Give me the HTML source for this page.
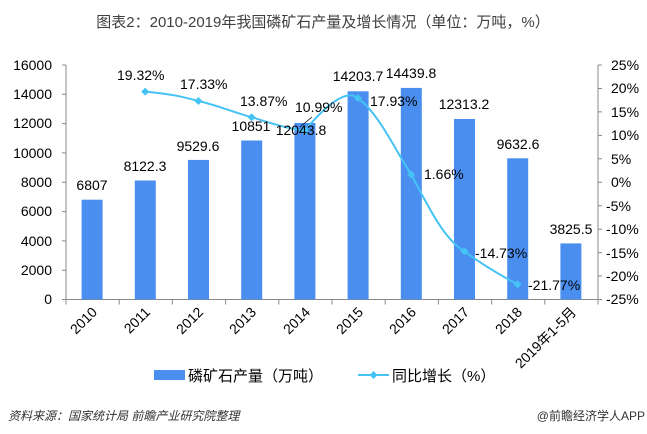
<!DOCTYPE html>
<html><head><meta charset="utf-8"><style>
body{margin:0;background:#fff;}
svg{display:block;font-family:"Liberation Sans","Noto Sans CJK SC",sans-serif;}
</style></head><body>
<svg width="647" height="434" viewBox="0 0 647 434" xmlns="http://www.w3.org/2000/svg">
<rect width="647" height="434" fill="#fff"/>
<text x="323" y="27" font-size="15" fill="#404040" text-anchor="middle">图表2：2010-2019年我国磷矿石产量及增长情况（单位：万吨，%）</text>
<g stroke="#888" stroke-width="1" fill="none">
<line x1="66" y1="65" x2="66" y2="299.5"/>
<line x1="598" y1="65" x2="598" y2="299.5"/>
<line x1="66" y1="299.5" x2="598" y2="299.5"/>
<path d="M62 65h4M62 94.3h4M62 123.6h4M62 152.9h4M62 182.2h4M62 211.6h4M62 240.9h4M62 270.2h4M62 299.5h4"/>
<path d="M598 65h4M598 88.5h4M598 111.9h4M598 135.4h4M598 158.8h4M598 182.2h4M598 205.7h4M598 229.2h4M598 252.6h4M598 276h4M598 299.5h4"/>
<path d="M66 299.5v5M119.2 299.5v5M172.4 299.5v5M225.6 299.5v5M278.8 299.5v5M332 299.5v5M385.2 299.5v5M438.4 299.5v5M491.6 299.5v5M544.8 299.5v5M598 299.5v5"/>
</g>
<g font-size="14" fill="#000" text-anchor="end">
<text x="52" y="70">16000</text><text x="52" y="99">14000</text><text x="52" y="128">12000</text><text x="52" y="158">10000</text><text x="52" y="187">8000</text><text x="52" y="216">6000</text><text x="52" y="246">4000</text><text x="52" y="275">2000</text><text x="52" y="304">0</text>
</g>
<g font-size="14" fill="#000" text-anchor="start">
<text x="611" y="70">25%</text><text x="611" y="93">20%</text><text x="611" y="117">15%</text><text x="611" y="140">10%</text><text x="611" y="164">5%</text><text x="611" y="187">0%</text><text x="606" y="211">-5%</text><text x="606" y="234">-10%</text><text x="606" y="258">-15%</text><text x="606" y="281">-20%</text><text x="606" y="304">-25%</text>
</g>
<g fill="#4a8ff0">
<rect x="81.6" y="199.7" width="21" height="99.8"/>
<rect x="134.8" y="180.5" width="21" height="119"/>
<rect x="188" y="159.9" width="21" height="139.6"/>
<rect x="241.2" y="140.5" width="21" height="159"/>
<rect x="294.4" y="123" width="21" height="176.5"/>
<rect x="347.6" y="91.3" width="21" height="208.2"/>
<rect x="400.8" y="87.9" width="21" height="211.6"/>
<rect x="454" y="119" width="21" height="180.5"/>
<rect x="507.2" y="158.3" width="21" height="141.2"/>
<rect x="560.4" y="243.4" width="21" height="56.1"/>
</g>
<path d="M145.2 91.6 C170 94 180 96 198.4 101 C220 106 232 112 251.6 117.2 C270 123 285 128 304.8 130.7 C330 100 348 90 358 98.1 C380 115 395 150 411.2 174.5 C430 210 445 240 464.4 251.3 C480 263 500 275 517.6 284.4" fill="none" stroke="#45c3f5" stroke-width="2"/>
<g fill="#45c3f5">
<path d="M145.2 87.6l4 4-4 4-4-4z"/><path d="M198.4 97l4 4-4 4-4-4z"/><path d="M251.6 113.2l4 4-4 4-4-4z"/><path d="M304.8 126.7l4 4-4 4-4-4z"/><path d="M358 94.1l4 4-4 4-4-4z"/><path d="M411.2 170.5l4 4-4 4-4-4z"/><path d="M464.4 247.3l4 4-4 4-4-4z"/><path d="M517.6 280.4l4 4-4 4-4-4z"/>
</g>
<g font-size="14" fill="#000" text-anchor="middle">
<text x="92" y="190">6807</text><text x="145" y="171">8122.3</text><text x="198" y="151">9529.6</text><text x="251" y="131">10851</text><text x="301" y="135">12043.8</text><text x="358" y="81">14203.7</text><text x="411" y="78">14439.8</text><text x="464" y="109">12313.2</text><text x="518" y="149">9632.6</text><text x="571" y="234">3825.5</text>
</g>
<g font-size="14" fill="#000">
<text x="117" y="80">19.32%</text><text x="180" y="89">17.33%</text><text x="240" y="106">13.87%</text><text x="295" y="112">10.99%</text><text x="370" y="106">17.93%</text><text x="424" y="179">1.66%</text><text x="475" y="258">-14.73%</text><text x="528" y="290">-21.77%</text>
</g>
<line x1="300" y1="127" x2="312" y2="117" stroke="#000" stroke-width="0.8"/>
<g font-size="14" fill="#000" text-anchor="end">
<text transform="translate(98,313) rotate(-45)">2010</text>
<text transform="translate(151,313) rotate(-45)">2011</text>
<text transform="translate(204,313) rotate(-45)">2012</text>
<text transform="translate(257,313) rotate(-45)">2013</text>
<text transform="translate(311,313) rotate(-45)">2014</text>
<text transform="translate(364,313) rotate(-45)">2015</text>
<text transform="translate(417,313) rotate(-45)">2016</text>
<text transform="translate(470,313) rotate(-45)">2017</text>
<text transform="translate(523,313) rotate(-45)">2018</text>
<text transform="translate(577,313) rotate(-45)">2019年1-5月</text>
</g>
<rect x="154" y="370" width="31" height="10" fill="#4a8ff0"/>
<text x="188" y="381" font-size="15" fill="#000">磷矿石产量（万吨）</text>
<line x1="358" y1="375" x2="389" y2="375" stroke="#45c3f5" stroke-width="2"/>
<path d="M373.5 371l4 4-4 4-4-4z" fill="#45c3f5"/>
<text x="392" y="381" font-size="15" fill="#000">同比增长（%）</text>
<text x="8" y="420" font-size="12" fill="#333" font-style="italic">资料来源：国家统计局 前瞻产业研究院整理</text>
<text x="645" y="420" font-size="12" fill="#333" text-anchor="end">@前瞻经济学人APP</text>
</svg>
</body></html>
